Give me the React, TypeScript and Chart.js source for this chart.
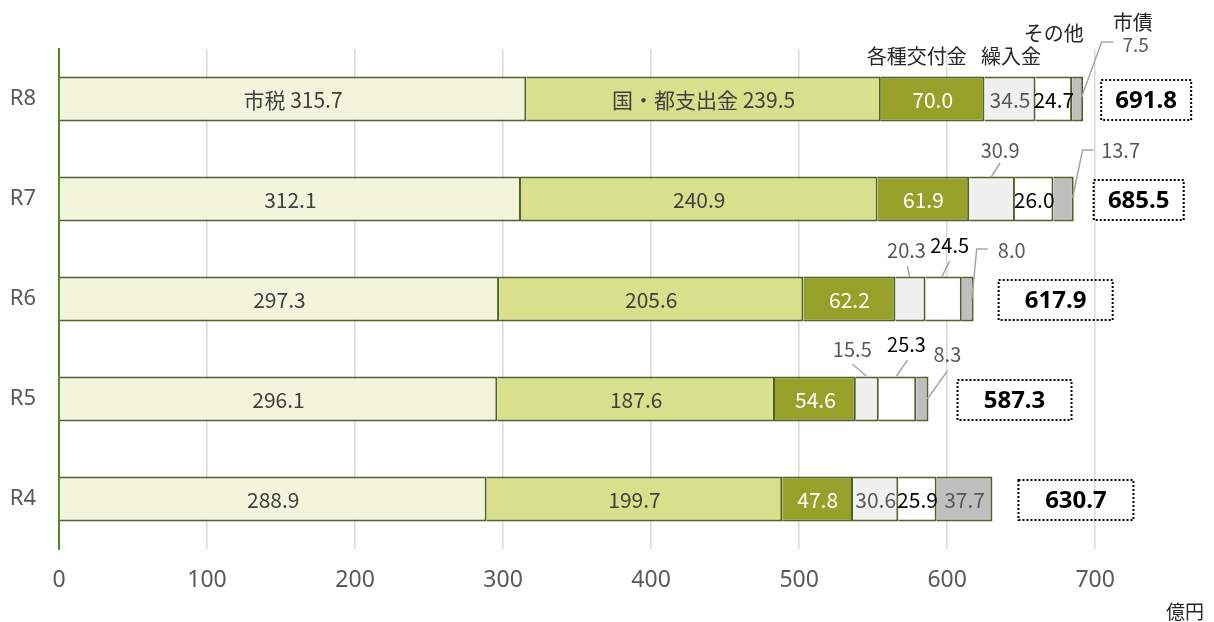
import React, { useEffect, useRef } from 'react';
import { Chart, registerables } from 'chart.js';

Chart.register(...registerables);

// ---- data ----
const categories = ['R8', 'R7', 'R6', 'R5', 'R4'];
const seriesNames = ['市税', '国・都支出金', '各種交付金', '繰入金', 'その他', '市債'];
const shizei = [315.7, 312.1, 297.3, 296.1, 288.9];
const kokuto = [239.5, 240.9, 205.6, 187.6, 199.7];
const koufukin = [70.0, 61.9, 62.2, 54.6, 47.8];
const kurikomi = [34.5, 30.9, 20.3, 15.5, 30.6];
const sonota = [24.7, 26.0, 24.5, 25.3, 25.9];
const shisai = [7.5, 13.7, 8.0, 8.3, 37.7];
const totals = [691.8, 685.5, 617.9, 587.3, 630.7];
const xTickValues = [0, 100, 200, 300, 400, 500, 600, 700];
const unitLabel = '億円';

const seriesValues = [shizei, kokuto, koufukin, kurikomi, sonota, shisai];

// ---- styles ----
const fillColors = ['#f2f5dc', '#d9e08b', '#97a12a', '#f0f0f0', '#ffffff', '#bfbfbf'];
const textColors = ['#404040', '#404040', '#ffffff', '#595959', '#000000', '#595959'];
const barBorder = '#4f6228';
const leaderColor = '#a6a6a6';
const JP = '"Noto Sans CJK JP", "Noto Sans", sans-serif';
const NUM = '"Noto Sans", "Noto Sans CJK JP", sans-serif';

// outside labels: offsets (px) relative to segment centre
type Outside = { row: number; s: number; pts: number[][]; label: number[]; size?: number };
const outsideLabels: Outside[] = [
  { row: 0, s: 5, pts: [[4, -2], [24, -57], [36, -57]], label: [58, -54], size: 19 },
  { row: 1, s: 3, pts: [[-1, -22], [8, -36]], label: [8, -49] },
  { row: 1, s: 5, pts: [[9, -1], [19, -49], [30, -49]], label: [57, -49] },
  { row: 2, s: 3, pts: [[-1, -22], [-3, -33]], label: [-4, -49] },
  { row: 2, s: 4, pts: [[-2, -22], [6, -38]], label: [6, -54] },
  { row: 2, s: 5, pts: [[4, 1], [9, -50], [20, -50]], label: [44, -49] },
  { row: 3, s: 3, pts: [[-1, -23], [-15, -35]], label: [-15, -50] },
  { row: 3, s: 4, pts: [[-1, -23], [10, -39]], label: [9, -55] },
  { row: 3, s: 5, pts: [[5, 0], [25, -28]], label: [25, -45] },
];
// series-name headers above the first row
const headerLabels = [
  { s: 2, d: [-16, -43] },
  { s: 3, d: [1, -43] },
  { s: 4, d: [0, -66] },
  { s: 5, d: [55, -77] },
];
const totalBoxOffset = [18, 20, 25, 29, 26];
const totalBoxWidth = [90, 90, 114, 114, 115];

const labelPlugin = {
  id: 'customLabels',
  afterDatasetsDraw(chart: any) {
    const ctx = chart.ctx;
    ctx.save();
    const seg = (s: number, r: number) => {
      const el = chart.getDatasetMeta(s).data[r];
      return { cx: (el.x + el.base) / 2, cy: el.y, x: el.x, h: el.height };
    };
    const isOutside = (r: number, s: number) => outsideLabels.some((o) => o.row === r && o.s === s);

    // inside labels
    ctx.textAlign = 'center';
    ctx.textBaseline = 'middle';
    for (let s = 0; s < seriesValues.length; s++) {
      for (let r = 0; r < categories.length; r++) {
        if (isOutside(r, s)) continue;
        const g = seg(s, r);
        const v = seriesValues[s][r].toFixed(1);
        ctx.fillStyle = textColors[s];
        ctx.font = `21px ${JP}`;
        if (r === 0 && s < 2) {
          ctx.fillText(`${seriesNames[s]} ${v}`, g.cx, g.cy + 1);
        } else {
          ctx.fillText(v, g.cx, g.cy + 1);
        }
      }
    }

    // outside labels with leader lines
    for (const o of outsideLabels) {
      const g = seg(o.s, o.row);
      ctx.strokeStyle = leaderColor;
      ctx.lineWidth = 1.5;
      ctx.beginPath();
      o.pts.forEach((p, i) => {
        const px = g.cx + p[0];
        const py = g.cy + p[1];
        if (i === 0) ctx.moveTo(px, py);
        else ctx.lineTo(px, py);
      });
      ctx.stroke();
      ctx.fillStyle = textColors[o.s];
      ctx.font = `${o.size || 20}px ${JP}`;
      ctx.fillText(seriesValues[o.s][o.row].toFixed(1), g.cx + o.label[0], g.cy + o.label[1]);
    }

    // series headers
    ctx.fillStyle = '#262626';
    ctx.font = `20px ${JP}`;
    for (const h of headerLabels) {
      const g = seg(h.s, 0);
      ctx.fillText(seriesNames[h.s], g.cx + h.d[0], g.cy + h.d[1]);
    }

    // total boxes
    const last = seriesValues.length - 1;
    for (let r = 0; r < categories.length; r++) {
      const g = seg(last, r);
      const left = g.x + totalBoxOffset[r];
      const w = totalBoxWidth[r];
      const top = g.cy - 19;
      const hh = 40;
      ctx.setLineDash([2, 2]);
      ctx.lineWidth = 2;
      ctx.strokeStyle = '#000000';
      ctx.strokeRect(left, top, w, hh);
      ctx.setLineDash([]);
      ctx.fillStyle = '#000000';
      ctx.font = `bold 24px ${NUM}`;
      ctx.fillText(totals[r].toFixed(1), left + w / 2, top + hh / 2 + 1);
    }

    // unit label
    ctx.fillStyle = '#262626';
    ctx.font = `19px ${JP}`;
    ctx.fillText(unitLabel, chart.width - 29, chart.height - 10);
    ctx.restore();
  },
};

export default function App() {
  const ref = useRef<HTMLCanvasElement | null>(null);
  useEffect(() => {
    if (!ref.current) return;
    const chart = new Chart(ref.current, {
      type: 'bar',
      data: {
        labels: categories,
        datasets: seriesNames.map((name, i) => ({
          label: name,
          data: seriesValues[i],
          backgroundColor: fillColors[i],
          borderColor: barBorder,
          borderWidth: 2,
          borderSkipped: 'start',
          barPercentage: 0.45,
          categoryPercentage: 1,
        })),
      },
      options: {
        indexAxis: 'y',
        animation: false,
        responsive: false,
        maintainAspectRatio: false,
        layout: { padding: { top: 49, right: 30, left: 0, bottom: 0 } },
        plugins: { legend: { display: false }, tooltip: { enabled: false } },
        scales: {
          x: {
            stacked: true,
            min: 0,
            max: 760,
            afterBuildTicks: (s: any) => {
              s.ticks = xTickValues.map((v) => ({ value: v }));
            },
            afterFit: (s: any) => {
              s.height = 73;
            },
            grid: { color: '#d9d9d9', lineWidth: 1.5, drawTicks: false },
            border: { display: false },
            ticks: {
              padding: 18,
              color: '#595959',
              font: { size: 23, family: NUM },
            },
          },
          y: {
            stacked: true,
            afterFit: (s: any) => {
              s.width = 59;
            },
            grid: { display: false, drawTicks: false },
            border: { display: true, color: '#4e8a2e', width: 2 },
            ticks: {
              padding: 23,
              color: '#595959',
              font: { size: 22, family: NUM },
            },
          },
        },
      },
      plugins: [labelPlugin],
    } as any);
    return () => chart.destroy();
  }, []);
  return (
    <div style={{ position: 'fixed', left: 0, top: 0, width: 1214, height: 622, background: '#fff' }}>
      <canvas ref={ref} width={1214} height={622} />
    </div>
  );
}
